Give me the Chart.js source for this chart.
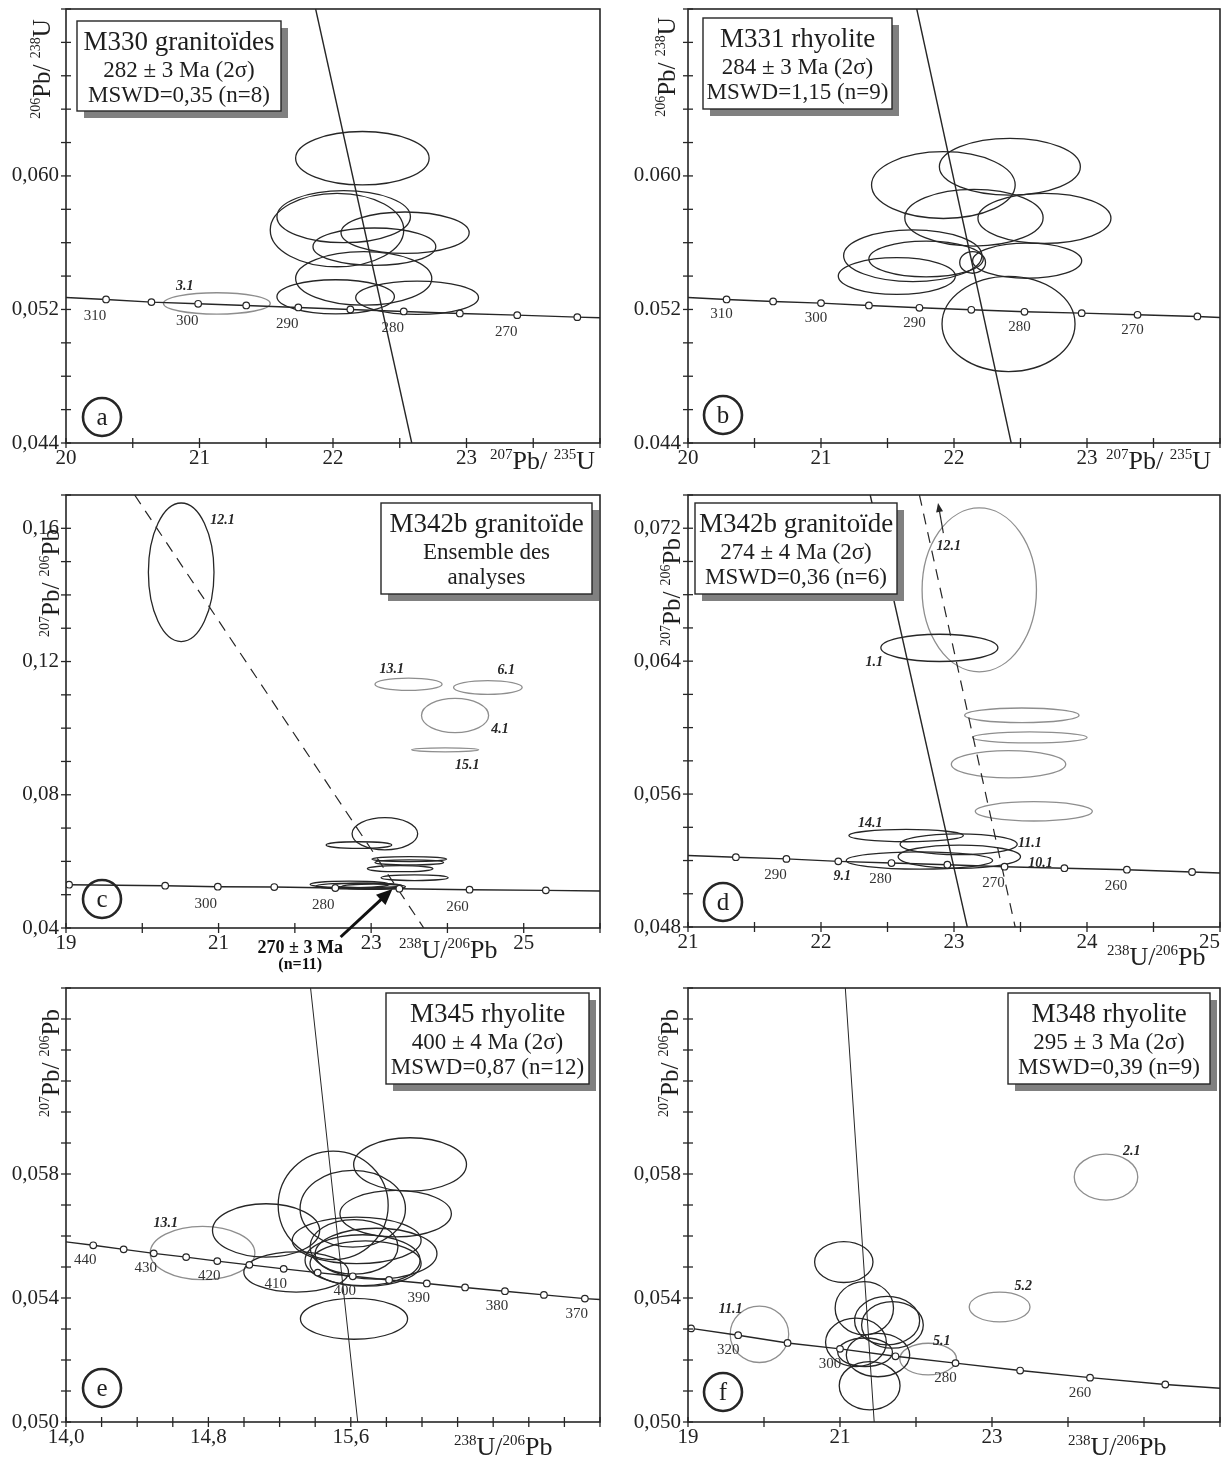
<!DOCTYPE html>
<html>
<head>
<meta charset="utf-8">
<script src="https://cdn.jsdelivr.net/npm/chart.js@4.4.1/dist/chart.umd.min.js"></script>
<style>
  body { margin: 0; background: #fff; width: 1222px; height: 1458px; position: relative; overflow: hidden; }
  canvas { position: absolute; }
</style>
</head>
<body>
<canvas id="pa" width="610" height="478" style="left:0;top:0"></canvas>
<canvas id="pb" width="612" height="478" style="left:610px;top:0"></canvas>
<canvas id="pc" width="610" height="497" style="left:0;top:478px"></canvas>
<canvas id="pd" width="612" height="497" style="left:610px;top:478px"></canvas>
<canvas id="pe" width="610" height="483" style="left:0;top:975px"></canvas>
<canvas id="pf" width="612" height="483" style="left:610px;top:975px"></canvas>
<script>
// ---- panel a : M330 ----
const aConcX = [20.00, 20.30, 20.64, 20.99, 21.35, 21.74, 22.13, 22.53, 22.95, 23.38, 23.83, 24.00];
const aConcY = [0.05272, 0.0526, 0.05244, 0.05234, 0.05224, 0.05212, 0.0520, 0.05188, 0.05176, 0.05166, 0.05154, 0.0515];
const aConcAge = [null, 310, 305, 300, 295, 290, 285, 280, 275, 270, 265, null];
const aAgeLabels = [310, 300, 290, 280, 270];
const aDiscX = [21.87, 22.59];
const aDiscY = [0.070, 0.044];
// [centre x, centre y, half width, half height]
const aEllBlack = [
  [22.22, 0.06106, 0.50, 0.0016], [22.08, 0.05756, 0.50, 0.00156], [22.03, 0.05676, 0.50, 0.0022],
  [22.54, 0.0566, 0.48, 0.00124], [22.31, 0.05576, 0.46, 0.00112], [22.23, 0.05386, 0.51, 0.0016],
  [22.02, 0.05276, 0.44, 0.00102], [22.63, 0.0527, 0.46, 0.0010]
];
const aEllGray = [[21.13, 0.05236, 0.40, 0.00064]];
const aEllLabels = [['3.1', 20.89, 0.05336]];
const aXTicks = [20, 21, 22, 23];
const aXTickText = ['20', '21', '22', '23'];
const aYTicks = [0.044, 0.052, 0.060];
const aYTickText = ['0,044', '0,052', '0,060'];
const aInfo = ['M330 granitoïdes', '282 ± 3 Ma (2σ)', 'MSWD=0,35 (n=8)'];

// ---- panel b : M331 ----
const bConcX = [20.00, 20.29, 20.64, 21.00, 21.36, 21.74, 22.13, 22.53, 22.96, 23.38, 23.83, 24.00];
const bConcY = [0.05272, 0.0526, 0.05248, 0.05238, 0.05224, 0.0521, 0.05198, 0.05186, 0.05178, 0.05168, 0.05158, 0.05152];
const bConcAge = [null, 310, 305, 300, 295, 290, 285, 280, 275, 270, 265, null];
const bAgeLabels = [310, 300, 290, 280, 270];
const bDiscX = [21.72, 22.43];
const bDiscY = [0.070, 0.044];
const bEllBlack = [
  [22.42, 0.06055, 0.53, 0.0017], [21.92, 0.05945, 0.54, 0.0020], [22.15, 0.0575, 0.52, 0.0017],
  [22.68, 0.05746, 0.50, 0.0015], [21.69, 0.05522, 0.52, 0.00155], [21.79, 0.05502, 0.43, 0.00107],
  [21.57, 0.0540, 0.44, 0.0011], [22.55, 0.05492, 0.41, 0.00105], [22.14, 0.05482, 0.097, 0.00065],
  [22.41, 0.05113, 0.50, 0.00285]
];
const bEllGray = [];
const bEllLabels = [];
const bXTicks = [20, 21, 22, 23];
const bXTickText = ['20', '21', '22', '23'];
const bYTicks = [0.044, 0.052, 0.060];
const bYTickText = ['0.044', '0.052', '0.060'];
const bInfo = ['M331 rhyolite', '284 ± 3 Ma (2σ)', 'MSWD=1,15 (n=9)'];

// ---- panel c : M342b all analyses ----
const cConcX = [19.00, 19.04, 20.30, 20.99, 21.73, 22.53, 23.37, 24.29, 25.29, 26.00];
const cConcY = [0.0530, 0.0530, 0.0527, 0.0524, 0.0523, 0.0520, 0.0518, 0.0515, 0.0513, 0.0511];
const cConcAge = [null, 330, 310, 300, 290, 280, 270, 260, 250, null];
const cAgeLabels = [300, 280, 260];
const cDashX = [19.90, 23.69];
const cDashY = [0.17, 0.04];
const cEllBlack = [
  [20.51, 0.1468, 0.43, 0.0208], [23.18, 0.0683, 0.43, 0.00485], [22.84, 0.0649, 0.43, 0.0010],
  [23.50, 0.0607, 0.49, 0.00075], [23.50, 0.0597, 0.45, 0.00075], [23.38, 0.0578, 0.43, 0.0009],
  [23.57, 0.0551, 0.44, 0.00085], [22.72, 0.0531, 0.52, 0.0010], [22.83, 0.0526, 0.55, 0.0009],
  [23.03, 0.0524, 0.42, 0.0008], [22.95, 0.0528, 0.45, 0.0007]
];
const cEllGray = [
  [23.49, 0.1132, 0.44, 0.00185], [24.53, 0.1122, 0.45, 0.00205], [24.10, 0.1038, 0.44, 0.00515],
  [23.97, 0.0935, 0.44, 0.0006]
];
const cEllLabels = [['12.1', 21.05, 0.1625], ['13.1', 23.27, 0.1177], ['6.1', 24.77, 0.1172],
  ['4.1', 24.69, 0.0997], ['15.1', 24.26, 0.0887]];
const cArrowX = [22.60, 23.28];
const cArrowY = [0.0373, 0.0517];
const cAgeNote = ['270 ± 3 Ma', '(n=11)'];
const cAgeNoteX = 22.07;
const cXTicks = [19, 21, 23, 25];
const cXTickText = ['19', '21', '23', '25'];
const cYTicks = [0.04, 0.08, 0.12, 0.16];
const cYTickText = ['0,04', '0,08', '0,12', '0,16'];
const cInfo = ['M342b granitoïde', 'Ensemble des', 'analyses'];

// ---- panel d : M342b ----
const dConcX = [21.00, 21.36, 21.74, 22.13, 22.53, 22.95, 23.38, 23.83, 24.30, 24.79, 25.00];
const dConcY = [0.0523, 0.0522, 0.0521, 0.05195, 0.05185, 0.05175, 0.05163, 0.05154, 0.05145, 0.05131, 0.05125];
const dConcAge = [null, 295, 290, 285, 280, 275, 270, 265, 260, 255, null];
const dAgeLabels = [290, 280, 270, 260];
const dDiscX = [22.37, 23.10];
const dDiscY = [0.074, 0.048];
const dDashX = [22.74, 23.46];
const dDashY = [0.074, 0.048];
const dEllBlack = [
  [22.89, 0.0648, 0.44, 0.00082], [22.64, 0.0535, 0.43, 0.00037], [23.035, 0.05298, 0.44, 0.00063],
  [23.04, 0.05223, 0.46, 0.0007], [22.74, 0.0520, 0.55, 0.00052]
];
const dEllGray = [
  [23.19, 0.06829, 0.43, 0.00493], [23.51, 0.06074, 0.43, 0.00044], [23.57, 0.05941, 0.43, 0.00033],
  [23.41, 0.0578, 0.43, 0.00082], [23.60, 0.05496, 0.44, 0.00058]
];
const dEllLabels = [['12.1', 22.96, 0.0709], ['1.1', 22.40, 0.0639], ['14.1', 22.37, 0.05425],
  ['11.1', 23.57, 0.05304], ['9.1', 22.16, 0.05102], ['10.1', 23.65, 0.05183]];
const dArrowX = [22.92, 22.88];
const dArrowY = [0.0717, 0.07352];
const dXTicks = [21, 22, 23, 24, 25];
const dXTickText = ['21', '22', '23', '24', '25\u2003'];
const dYTicks = [0.048, 0.056, 0.064, 0.072];
const dYTickText = ['0,048', '0,056', '0,064', '0,072'];
const dInfo = ['M342b granitoïde', '274 ± 4 Ma (2σ)', 'MSWD=0,36 (n=6)'];

// ---- panel e : M345 ----
const eConcX = [14.00, 14.153, 14.324, 14.493, 14.675, 14.850, 15.030, 15.223, 15.414, 15.611, 15.815, 16.027, 16.242, 16.466, 16.685, 16.915, 17.00];
const eConcY = [0.05581, 0.0557, 0.05557, 0.05544, 0.05532, 0.05519, 0.05507, 0.05494, 0.05482, 0.0547, 0.05458, 0.05447, 0.05434, 0.05422, 0.0541, 0.05398, 0.05395];
const eConcAge = [null, 440, 435, 430, 425, 420, 415, 410, 405, 400, 395, 390, 385, 380, 375, 370, null];
const eAgeLabels = [440, 430, 420, 410, 400, 390, 380, 370];
const eDiscX = [15.374, 15.639];
const eDiscY = [0.064, 0.050];
const eEllBlack = [
  [15.124, 0.05618, 0.301, 0.00086], [15.293, 0.05484, 0.294, 0.00065], [15.501, 0.05699, 0.309, 0.00175],
  [15.933, 0.05831, 0.317, 0.00086], [15.611, 0.05688, 0.296, 0.00124], [15.852, 0.05672, 0.313, 0.00075],
  [15.633, 0.05586, 0.362, 0.00075], [15.618, 0.05565, 0.247, 0.00088], [15.742, 0.05543, 0.342, 0.00082],
  [15.666, 0.05522, 0.323, 0.00082], [15.683, 0.05511, 0.312, 0.00073], [15.618, 0.05333, 0.301, 0.00066]
];
const eEllGray = [[14.767, 0.05545, 0.294, 0.00086]];
const eEllLabels = [['13.1', 14.56, 0.0564]];
const eXTicks = [14.0, 14.8, 15.6];
const eXTickText = ['14,0', '14,8', '15,6'];
const eYTicks = [0.050, 0.054, 0.058];
const eYTickText = ['0,050', '0,054', '0,058'];
const eInfo = ['M345 rhyolite', '400 ± 4 Ma (2σ)', 'MSWD=0,87 (n=12)'];

// ---- panel f : M348 ----
const fConcX = [19.00, 19.04, 19.66, 20.31, 21.00, 21.73, 22.52, 23.37, 24.29, 25.28, 26.00];
const fConcY = [0.05305, 0.05302, 0.0528, 0.05255, 0.05236, 0.05212, 0.0519, 0.05166, 0.05143, 0.05121, 0.05109];
const fConcAge = [null, 330, 320, 310, 300, 290, 280, 270, 260, 250, null];
const fAgeLabels = [320, 300, 280, 260];
const fDiscX = [21.07, 21.45];
const fDiscY = [0.064, 0.050];
const fEllBlack = [
  [21.05, 0.05516, 0.384, 0.00066], [21.32, 0.05367, 0.384, 0.00086], [21.62, 0.05327, 0.428, 0.00078],
  [21.69, 0.05313, 0.406, 0.00075], [21.21, 0.05257, 0.40, 0.00078], [21.50, 0.05216, 0.417, 0.0007],
  [21.33, 0.05225, 0.36, 0.00046], [21.39, 0.05117, 0.40, 0.00078]
];
const fEllGray = [
  [19.94, 0.05283, 0.385, 0.00091], [23.10, 0.05371, 0.40, 0.00048], [24.50, 0.0579, 0.418, 0.00074],
  [22.16, 0.05203, 0.373, 0.00051]
];
const fEllLabels = [['11.1', 19.56, 0.05363], ['5.2', 23.41, 0.05439], ['2.1', 24.84, 0.05872], ['5.1', 22.34, 0.05259]];
const fXTicks = [19, 21, 23];
const fXTickText = ['19', '21', '23'];
const fYTicks = [0.050, 0.054, 0.058];
const fYTickText = ['0,050', '0,054', '0,058'];
const fInfo = ['M348 rhyolite', '295 ± 3 Ma (2σ)', 'MSWD=0,39 (n=9)'];

const INK = '#262626';
const GRAY = '#8e8e8e';
const SERIF = '"Liberation Serif", "DejaVu Serif", serif';
const WETH_Y = [['206', 1], ['Pb/ ', 0], ['238', 1], ['U', 0]];
const WETH_X = [['207', 1], ['Pb/ ', 0], ['235', 1], ['U', 0]];
const TW_Y = [['207', 1], ['Pb/ ', 0], ['206', 1], ['Pb', 0]];
const TW_X = [['238', 1], ['U/', 0], ['206', 1], ['Pb', 0]];

// draws "207Pb/ 206Pb" style labels, x = left edge, y = baseline
function drawRich(ctx, parts, x, y, big, small) {
  let cx = x;
  parts.forEach(([t, sup]) => {
    ctx.font = (sup ? small : big) + 'px ' + SERIF;
    ctx.fillText(t, cx, sup ? y - big * 0.4 : y);
    cx += ctx.measureText(t).width;
  });
  return cx - x;
}
function richWidth(ctx, parts, big, small) {
  let w = 0;
  parts.forEach(([t, sup]) => {
    ctx.font = (sup ? small : big) + 'px ' + SERIF;
    w += ctx.measureText(t).width;
  });
  return w;
}

function drawArrow(ctx, x0, y0, x1, y1, lw, hl, hw) {
  const a = Math.atan2(y1 - y0, x1 - x0);
  ctx.lineWidth = lw;
  ctx.beginPath();
  ctx.moveTo(x0, y0);
  ctx.lineTo(x1 - Math.cos(a) * hl * 0.8, y1 - Math.sin(a) * hl * 0.8);
  ctx.stroke();
  ctx.beginPath();
  ctx.moveTo(x1, y1);
  ctx.lineTo(x1 - Math.cos(a) * hl + Math.sin(a) * hw, y1 - Math.sin(a) * hl - Math.cos(a) * hw);
  ctx.lineTo(x1 - Math.cos(a) * hl - Math.sin(a) * hw, y1 - Math.sin(a) * hl + Math.cos(a) * hw);
  ctx.closePath();
  ctx.fill();
}

function makePanel(p) {
  const pts = p.concX.map((x, i) => ({ x: x, y: p.concY[i] }));
  const datasets = [{
    data: pts, showLine: true, borderColor: INK, borderWidth: 1.4,
    pointRadius: p.concAge.map(a => a === null ? 0 : 3.3),
    pointBackgroundColor: '#fff', pointBorderColor: INK, pointBorderWidth: 1.2
  }];
  if (p.discX) {
    datasets.push({
      data: p.discX.map((x, i) => ({ x: x, y: p.discY[i] })), showLine: true,
      borderColor: INK, borderWidth: p.discW, pointRadius: 0
    });
  }
  if (p.dashX) {
    datasets.push({
      data: p.dashX.map((x, i) => ({ x: x, y: p.dashY[i] })), showLine: true,
      borderColor: INK, borderWidth: 1.2, borderDash: [11, 8], pointRadius: 0
    });
  }

  const tickCb = (ticks, texts) => v => {
    const k = ticks.findIndex(t => Math.abs(t - v) < 1e-9);
    return k < 0 ? '' : texts[k];
  };

  const plugin = {
    id: 'deco',
    beforeDatasetsDraw(chart) {
      const { ctx, chartArea: ca, scales: { x, y } } = chart;
      ctx.save();
      ctx.beginPath();
      ctx.rect(ca.left, ca.top, ca.width, ca.height);
      ctx.clip();
      const draw = (list, col) => {
        ctx.strokeStyle = col;
        ctx.lineWidth = 1.3;
        list.forEach(([cx, cy, rx, ry]) => {
          const px = x.getPixelForValue(cx), py = y.getPixelForValue(cy);
          const rpx = Math.abs(x.getPixelForValue(cx + rx) - px);
          const rpy = Math.abs(y.getPixelForValue(cy + ry) - py);
          ctx.beginPath();
          ctx.ellipse(px, py, rpx, Math.max(rpy, 1.5), 0, 0, Math.PI * 2);
          ctx.stroke();
        });
      };
      draw(p.gray, GRAY);
      draw(p.black, INK);
      ctx.restore();
    },
    afterDraw(chart) {
      const { ctx, chartArea: ca, scales: { x, y } } = chart;
      ctx.save();
      ctx.strokeStyle = INK;
      ctx.fillStyle = INK;
      // frame
      ctx.lineWidth = 1.6;
      ctx.strokeRect(ca.left, ca.top, ca.width, ca.height);
      // tick marks crossing the axes
      ctx.lineWidth = 1.3;
      x.ticks.forEach(t => {
        const px = x.getPixelForValue(t.value);
        ctx.beginPath(); ctx.moveTo(px, ca.bottom - 5); ctx.lineTo(px, ca.bottom + 5); ctx.stroke();
      });
      y.ticks.forEach(t => {
        const py = y.getPixelForValue(t.value);
        ctx.beginPath(); ctx.moveTo(ca.left - 5, py); ctx.lineTo(ca.left + 5, py); ctx.stroke();
      });
      // ages along the concordia
      ctx.fillStyle = '#333';
      ctx.font = '15px ' + SERIF;
      ctx.textAlign = 'center';
      ctx.textBaseline = 'middle';
      p.concAge.forEach((a, i) => {
        if (a === null || p.ageLabels.indexOf(a) < 0) return;
        ctx.fillText(String(a), x.getPixelForValue(p.concX[i]) + p.ageDx, y.getPixelForValue(p.concY[i]) + p.ageDy);
      });
      // analysis labels
      ctx.fillStyle = INK;
      ctx.font = 'italic bold 14px ' + SERIF;
      p.labels.forEach(([t, lx, ly]) => {
        ctx.fillText(t, x.getPixelForValue(lx), y.getPixelForValue(ly));
      });
      // arrows and notes
      if (p.extra) p.extra(ctx, ca, x, y);
      // sample box with shadow
      const bx = ca.left + p.box[0], by = ca.top + p.box[1], bw = p.box[2], bh = p.box[3];
      ctx.fillStyle = '#808080';
      ctx.fillRect(bx + 7, by + 7, bw, bh);
      ctx.fillStyle = '#fff';
      ctx.fillRect(bx, by, bw, bh);
      ctx.lineWidth = 1.4;
      ctx.strokeStyle = INK;
      ctx.strokeRect(bx, by, bw, bh);
      ctx.fillStyle = '#1e1e1e';
      ctx.textAlign = 'center';
      ctx.textBaseline = 'alphabetic';
      p.info.forEach((t, i) => {
        ctx.font = (i === 0 ? 27 : 23) + 'px ' + SERIF;
        ctx.fillText(t, bx + bw / 2, by + [29, 56, 81][i]);
      });
      // panel letter
      const lx = ca.left + p.letterPos[0], ly = ca.bottom + p.letterPos[1];
      ctx.lineWidth = 2.6;
      ctx.beginPath();
      ctx.arc(lx, ly, 19, 0, Math.PI * 2);
      ctx.stroke();
      ctx.font = '25px ' + SERIF;
      ctx.textBaseline = 'middle';
      ctx.fillText(p.letter, lx, ly + 1);
      // axis titles
      ctx.textAlign = 'left';
      ctx.textBaseline = 'alphabetic';
      drawRich(ctx, p.xTitle, ca.left + p.xTitlePos[0], ca.bottom + p.xTitlePos[1], 26, 15);
      ctx.save();
      ctx.translate(ca.left + p.yTitlePos[0], ca.top + p.yTitlePos[1]);
      ctx.rotate(-Math.PI / 2);
      const w = richWidth(ctx, p.yTitle, 25, 14);
      drawRich(ctx, p.yTitle, -w / 2, 0, 25, 14);
      ctx.restore();
      ctx.restore();
    }
  };

  new Chart(document.getElementById(p.canvas), {
    type: 'scatter',
    data: { datasets: datasets },
    options: {
      responsive: false,
      animation: false,
      events: [],
      layout: { autoPadding: false, padding: { top: p.padTop, right: p.padRight, left: 0, bottom: 0 } },
      plugins: { legend: { display: false }, tooltip: { enabled: false } },
      scales: {
        x: {
          type: 'linear', min: p.xr[0], max: p.xr[1],
          grid: { display: false, drawTicks: false }, border: { display: false },
          ticks: {
            stepSize: p.xr[2], autoSkip: false, maxRotation: 0, padding: 3, color: '#222',
            font: { family: SERIF, size: 21 }, callback: tickCb(p.xTicks, p.xTickText)
          },
          afterFit: s => { s.height = p.xH; s.paddingLeft = 0; s.paddingRight = 0; }
        },
        y: {
          type: 'linear', min: p.yr[0], max: p.yr[1],
          grid: { display: false, drawTicks: false }, border: { display: false },
          ticks: {
            stepSize: p.yr[2], autoSkip: false, padding: 7, color: '#222',
            font: { family: SERIF, size: 21 }, callback: tickCb(p.yTicks, p.yTickText)
          },
          afterFit: s => { s.width = p.yW; s.paddingTop = 0; s.paddingBottom = 0; }
        }
      }
    },
    plugins: [plugin]
  });
}

makePanel({
  canvas: 'pa', xr: [20, 24, 0.5], yr: [0.044, 0.070, 0.002], yW: 66, padTop: 9, padRight: 10, xH: 35,
  concX: aConcX, concY: aConcY, concAge: aConcAge, ageLabels: aAgeLabels, ageDx: -11, ageDy: 17,
  discX: aDiscX, discY: aDiscY, discW: 1.4, black: aEllBlack, gray: aEllGray, labels: aEllLabels,
  xTicks: aXTicks, xTickText: aXTickText, yTicks: aYTicks, yTickText: aYTickText,
  info: aInfo, box: [11, 12, 204, 90], letter: 'a', letterPos: [36, -26],
  xTitle: WETH_X, xTitlePos: [424, 26], yTitle: WETH_Y, yTitlePos: [-16, 60]
});
makePanel({
  canvas: 'pb', xr: [20, 24, 0.5], yr: [0.044, 0.070, 0.002], yW: 78, padTop: 9, padRight: 2, xH: 35,
  concX: bConcX, concY: bConcY, concAge: bConcAge, ageLabels: bAgeLabels, ageDx: -5, ageDy: 15,
  discX: bDiscX, discY: bDiscY, discW: 1.4, black: bEllBlack, gray: bEllGray, labels: bEllLabels,
  xTicks: bXTicks, xTickText: bXTickText, yTicks: bYTicks, yTickText: bYTickText,
  info: bInfo, box: [15, 9, 189, 91], letter: 'b', letterPos: [35, -28],
  xTitle: WETH_X, xTitlePos: [418, 26], yTitle: WETH_Y, yTitlePos: [-13, 58]
});
makePanel({
  canvas: 'pc', xr: [19, 26, 1], yr: [0.04, 0.17, 0.01], yW: 66, padTop: 17, padRight: 10, xH: 47,
  concX: cConcX, concY: cConcY, concAge: cConcAge, ageLabels: cAgeLabels, ageDx: -12, ageDy: 17,
  dashX: cDashX, dashY: cDashY, black: cEllBlack, gray: cEllGray, labels: cEllLabels,
  xTicks: cXTicks, xTickText: cXTickText, yTicks: cYTicks, yTickText: cYTickText,
  info: cInfo, box: [315, 8, 211, 91], letter: 'c', letterPos: [36, -29],
  xTitle: TW_X, xTitlePos: [333, 30], yTitle: TW_Y, yTitlePos: [-7, 88],
  extra: (ctx, ca, x, y) => {
    ctx.fillStyle = '#111';
    ctx.strokeStyle = '#111';
    drawArrow(ctx, x.getPixelForValue(cArrowX[0]), y.getPixelForValue(cArrowY[0]),
      x.getPixelForValue(cArrowX[1]), y.getPixelForValue(cArrowY[1]), 3, 16, 7);
    ctx.font = 'bold 18px ' + SERIF;
    ctx.fillText(cAgeNote[0], x.getPixelForValue(cAgeNoteX), ca.bottom + 20);
    ctx.font = 'bold 16px ' + SERIF;
    ctx.fillText(cAgeNote[1], x.getPixelForValue(cAgeNoteX), ca.bottom + 37);
  }
});
makePanel({
  canvas: 'pd', xr: [21, 25, 0.5], yr: [0.048, 0.074, 0.002], yW: 78, padTop: 17, padRight: 2, xH: 48,
  concX: dConcX, concY: dConcY, concAge: dConcAge, ageLabels: dAgeLabels, ageDx: -11, ageDy: 16,
  discX: dDiscX, discY: dDiscY, discW: 1.4, dashX: dDashX, dashY: dDashY,
  black: dEllBlack, gray: dEllGray, labels: dEllLabels,
  xTicks: dXTicks, xTickText: dXTickText, yTicks: dYTicks, yTickText: dYTickText,
  info: dInfo, box: [7, 8, 202, 91], letter: 'd', letterPos: [35, -25],
  xTitle: TW_X, xTitlePos: [419, 38], yTitle: TW_Y, yTitlePos: [-8, 97],
  extra: (ctx, ca, x, y) => {
    drawArrow(ctx, x.getPixelForValue(dArrowX[0]), y.getPixelForValue(dArrowY[0]),
      x.getPixelForValue(dArrowX[1]), y.getPixelForValue(dArrowY[1]), 1.2, 9, 3.5);
  }
});
makePanel({
  canvas: 'pe', xr: [14, 17, 0.2], yr: [0.050, 0.064, 0.001], yW: 66, padTop: 13, padRight: 10, xH: 36,
  concX: eConcX, concY: eConcY, concAge: eConcAge, ageLabels: eAgeLabels, ageDx: -8, ageDy: 15,
  discX: eDiscX, discY: eDiscY, discW: 1.0, black: eEllBlack, gray: eEllGray, labels: eEllLabels,
  xTicks: eXTicks, xTickText: eXTickText, yTicks: eYTicks, yTickText: eYTickText,
  info: eInfo, box: [320, 5, 203, 91], letter: 'e', letterPos: [36, -34],
  xTitle: TW_X, xTitlePos: [388, 33], yTitle: TW_Y, yTitlePos: [-7, 75]
});
makePanel({
  canvas: 'pf', xr: [19, 26, 1], yr: [0.050, 0.064, 0.001], yW: 78, padTop: 13, padRight: 2, xH: 36,
  concX: fConcX, concY: fConcY, concAge: fConcAge, ageLabels: fAgeLabels, ageDx: -10, ageDy: 15,
  discX: fDiscX, discY: fDiscY, discW: 1.0, black: fEllBlack, gray: fEllGray, labels: fEllLabels,
  xTicks: fXTicks, xTickText: fXTickText, yTicks: fYTicks, yTickText: fYTickText,
  info: fInfo, box: [320, 5, 202, 91], letter: 'f', letterPos: [35, -30],
  xTitle: TW_X, xTitlePos: [380, 33], yTitle: TW_Y, yTitlePos: [-10, 75]
});
</script>
</body>
</html>
